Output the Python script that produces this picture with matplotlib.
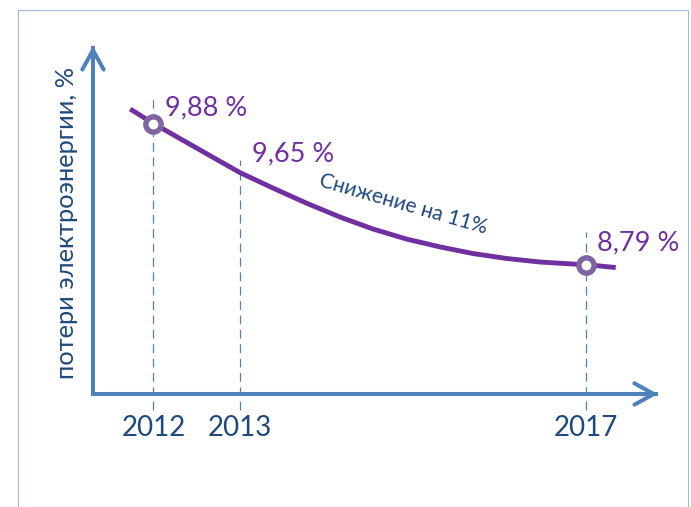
import matplotlib
matplotlib.use("Agg")
import matplotlib.pyplot as plt
from matplotlib.patches import Rectangle

plt.rcParams['font.family'] = ['Lato', 'DejaVu Sans']

# data
years = [2012, 2013, 2017]
losses = [9.88, 9.65, 8.79]
year_labels = ['2012', '2013', '2017']
value_labels = ['9,88 %', '9,65 %', '8,79 %']
marked = [0, 2]  # circles only at first and last year

# trend line as drawn on the picture
curve_years = [2011.73, 2012.0, 2012.54, 2013.0, 2013.38, 2013.78, 2014.16, 2014.54,
               2014.93, 2015.32, 2015.70, 2016.09, 2016.47, 2016.86, 2017.0, 2017.35]
curve_losses = [9.992, 9.88, 9.675, 9.501, 9.382, 9.262, 9.157, 9.065,
                8.987, 8.926, 8.875, 8.837, 8.810, 8.794, 8.79, 8.767]

trend_text = 'Снижение на 11%'
ylabel = 'потери электроэнергии, %'

# styling
axis_col = '#4F81BD'
line_col = '#7030A0'
ring_col = '#8064A2'
text_col = '#1F497D'
guide_ext = [0.22, -0.05, 0.25]          # how far each dashed guide goes above its value
label_off = [(8.3, 6.1), (8.6, -5.5), (8.3, 10.4)]  # value label offsets, points

fig = plt.figure(figsize=(6.91, 5.07), dpi=100)
fig.patches.append(Rectangle((18 / 691, -0.05), 670 / 691, 1.05 - 10 / 507,
                             transform=fig.transFigure, fill=False,
                             edgecolor='#9DB7DD', lw=0.8))

ax = fig.add_axes([93 / 691, 113 / 507, 565 / 691, 348 / 507])
ax.set_xlim(2011.300, 2017.839)
ax.set_ylim(7.79, 10.479)
ax.patch.set_visible(False)
for s in ax.spines.values():
    s.set_visible(False)
ax.set_yticks([])
ax.set_xticks(years, year_labels)
ax.tick_params(axis='x', length=0, pad=15, labelsize=20, labelcolor=text_col)

# dashed guides
bottom = ax.get_ylim()[0] - 0.12
for x, v, e in zip(years, losses, guide_ext):
    ax.plot([x, x], [bottom, v + e], color=axis_col, lw=0.9, ls=(0, (7, 4.5)),
            clip_on=False, zorder=1)

# axes with arrows
ax.plot([0, 0, 1], [1, 0, 0], transform=ax.transAxes, color=axis_col, lw=2.9,
        solid_joinstyle='miter', solid_capstyle='butt', clip_on=False, zorder=2)
arrow_kw = dict(arrowstyle='->,head_length=0.4,head_width=0.22', color=axis_col,
                lw=2.9, mutation_scale=35, shrinkA=0, shrinkB=0)
ax.annotate('', xy=(0, 1), xytext=(0, 0.9), xycoords='axes fraction', arrowprops=arrow_kw)
ax.annotate('', xy=(1, 0), xytext=(0.9, 0), xycoords='axes fraction', arrowprops=arrow_kw)

# trend curve
ax.plot(curve_years, curve_losses, color=line_col, lw=3.5, solid_capstyle='butt',
        solid_joinstyle='round', clip_on=False, zorder=3)
ax.plot([years[i] for i in marked], [losses[i] for i in marked], 'o', ms=11, mew=3.9,
        mfc='white', mec=ring_col, zorder=4, clip_on=False)

for x, v, lab, off in zip(years, losses, value_labels, label_off):
    ax.annotate(lab, (x, v), xytext=off, textcoords='offset points', ha='left',
                va='baseline', fontsize=19.5, color=line_col, annotation_clip=False)

ax.text(0.549, 0.545, trend_text, transform=ax.transAxes, rotation=-16,
        rotation_mode='anchor', ha='center', va='center', fontsize=15, color=text_col)
ax.text(-0.047, 0.491, ylabel, transform=ax.transAxes, rotation=90, ha='center',
        va='center', fontsize=18.3, color=text_col)

fig.savefig('out.png', dpi=100)
